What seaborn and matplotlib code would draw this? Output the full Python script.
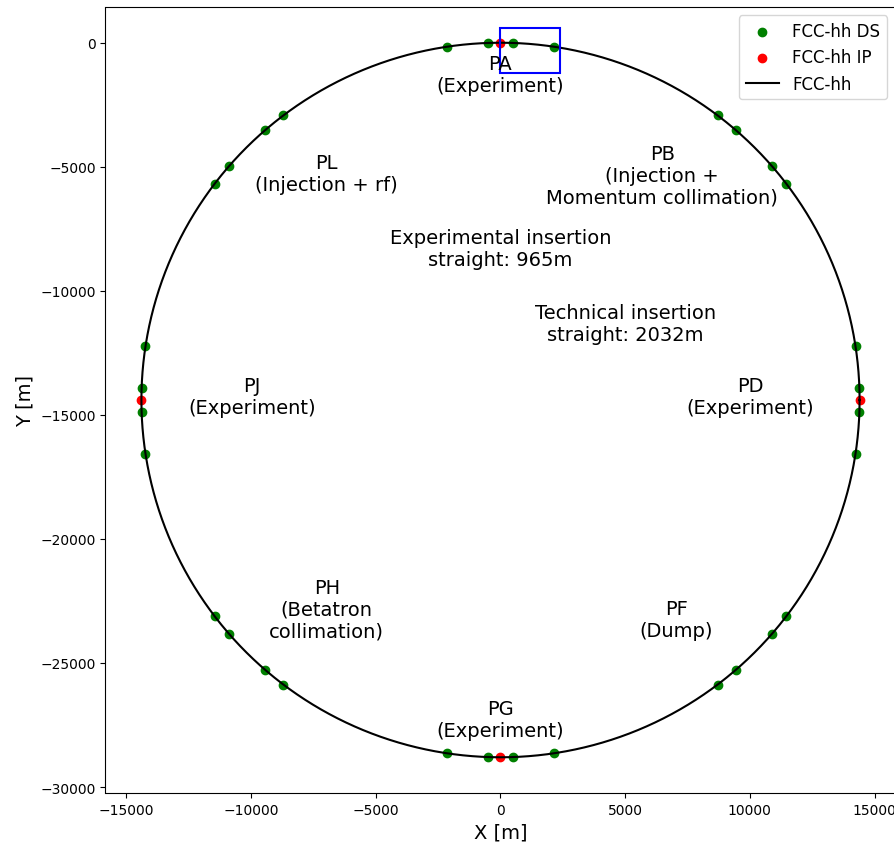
import numpy as np
import pandas as pd
import matplotlib
matplotlib.use("Agg")
import matplotlib.pyplot as plt
import seaborn as sns
from matplotlib.patches import Rectangle

# FCC-hh ring geometry
ring_radius = 14400.0
ring_center_y = -14400.0

# Interaction points (experimental insertions PA, PD, PG, PJ)
ip_x = [0, 14400, 0, -14400]
ip_y = [0, -14400, -28800, -14400]

# Dispersion-suppressor end points around each straight section
ds_x = [
    -2162, -482, 482, 2162,                # PA
    8709, 9439, 10875, 11468,              # PB
    14237, 14392, 14392, 14237,            # PD
    8709, 9439, 10875, 11468,              # PF
    -2162, -482, 482, 2162,                # PG
    -8709, -9439, -10875, -11468,          # PH
    -14237, -14392, -14392, -14237,        # PJ
    -8709, -9439, -10875, -11468,          # PL
]
ds_y = [
    -163, -8, -8, -163,
    -2932, -3525, -4961, -5691,
    -12238, -13918, -14882, -16562,
    -25868, -25275, -23839, -23109,
    -28637, -28792, -28792, -28637,
    -25868, -25275, -23839, -23109,
    -12238, -13918, -14882, -16562,
    -2932, -3525, -4961, -5691,
]

# Point labels and their positions
label_texts = [
    "PA\n(Experiment)",
    "PB\n(Injection +\nMomentum collimation)",
    "PL\n(Injection + rf)",
    "Experimental insertion\nstraight: 965m",
    "Technical insertion\nstraight: 2032m",
    "PJ\n(Experiment)",
    "PD\n(Experiment)",
    "PH\n(Betatron\ncollimation)",
    "PF\n(Dump)",
    "PG\n(Experiment)",
]
label_x = [0, 6490, -6970, 0, 5000, -9970, 10010, -6970, 7050, 0]
label_y = [-1290, -5350, -5270, -8280, -11300, -14270, -14270, -22840, -23240, -27260]

# Zoom box around PA
box_x0, box_y0, box_w, box_h = 0, -1200, 2400, 1800

theta = np.linspace(0, 2 * np.pi, 721)
ring = pd.DataFrame({
    "x": ring_radius * np.cos(theta),
    "y": ring_center_y + ring_radius * np.sin(theta),
})

fig = plt.figure(figsize=(8.95, 8.45), dpi=100)
ax = fig.add_axes([105.5 / 895, 51 / 845, 790 / 895, 786 / 845])

sns.scatterplot(x=ds_x, y=ds_y, color="green", s=36, edgecolor="green",
                linewidth=1, label="FCC-hh DS", ax=ax, zorder=1)
sns.scatterplot(x=ip_x, y=ip_y, color="red", s=36, edgecolor="red",
                linewidth=1, label="FCC-hh IP", ax=ax, zorder=1)
sns.lineplot(data=ring, x="x", y="y", sort=False, estimator=None,
             errorbar=None, color="black", linewidth=1.5, label="FCC-hh",
             ax=ax, zorder=2)

ax.add_patch(Rectangle((box_x0, box_y0), box_w, box_h, fill=False,
                       edgecolor="blue", linewidth=1.5, zorder=3))

for t, x, y in zip(label_texts, label_x, label_y):
    ax.text(x, y, t, fontsize=14, ha="center", va="center")

ax.set_xlim(-15840, 15840)
ax.set_ylim(-30240, 1440)
ax.set_xticks([-15000, -10000, -5000, 0, 5000, 10000, 15000])
ax.set_yticks([0, -5000, -10000, -15000, -20000, -25000, -30000])
ax.tick_params(labelsize=10)
ax.set_xlabel("X [m]", fontsize=14)
ax.set_ylabel("Y [m]", fontsize=14)
ax.legend(loc="upper right", fontsize=12)

fig.savefig("out.png", dpi=100)
